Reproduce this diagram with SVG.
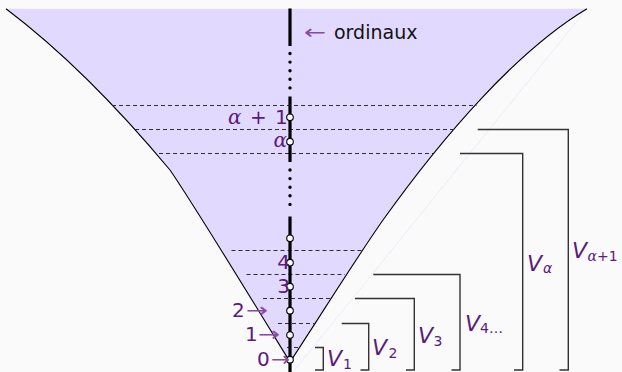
<svg xmlns="http://www.w3.org/2000/svg" width="622" height="372" viewBox="0 0 622 372">
<style>
  .curve{fill:none;stroke:#000;stroke-width:1.1}
  .dash{stroke:#2e2e2e;stroke-width:1.1;stroke-dasharray:4 3;fill:none}
  .axis{stroke:#000;stroke-width:3.2;fill:none}
  .dotline{stroke:#000;stroke-width:3.4;stroke-linecap:round;stroke-dasharray:0 8.6;fill:none}
  .pt{fill:#fff;stroke:#000;stroke-width:1.1}
  .br{fill:none;stroke:#333;stroke-width:1.4}
  .lab{font-family:"DejaVu Sans",sans-serif;font-size:20px;fill:#5a1a7e}
  .gk{font-family:"DejaVu Serif",serif;font-style:italic}
  .arr{font-family:"DejaVu Sans",sans-serif;font-size:20px;fill:#8a4aa0}
  .vl{font-family:"DejaVu Sans",sans-serif;font-size:22px;font-style:oblique;fill:#5a1a7e}
  .sub{font-family:"DejaVu Sans",sans-serif;font-size:14px;fill:#5a1a7e}
  .txt{font-family:"DejaVu Sans",sans-serif;font-size:19px;fill:#111}
</style>
<rect width="622" height="372" fill="#fafafa"/>
<g id="region">
  <path d="M6,8.7 L587,8.7 C517,50.5 443,136 383,220 C353,263 321,315 290,362 C252,300 196,208 170,170 C120,110 66,54 6,8.7 Z" fill="#e1dafe"/>
  <line x1="293" y1="372" x2="587" y2="8.7" stroke="#eae7f7" stroke-width="0.8"/>
  <path class="curve" d="M587,8.7 C517,50.5 443,136 383,220 C353,263 321,315 290,362"/>
  <path class="curve" d="M6,8.7 C66,54 120,110 170,170 C196,208 252,300 290,362"/>
</g>
<g id="levels">
  <line class="dash" x1="112" y1="105.5" x2="476.5" y2="105.5"/>
  <line class="dash" x1="135" y1="129.5" x2="455" y2="129.5"/>
  <line class="dash" x1="159" y1="153.5" x2="433" y2="153.5"/>
  <line class="dash" x1="231.5" y1="250.5" x2="362" y2="250.5"/>
  <line class="dash" x1="246.5" y1="274.5" x2="345" y2="274.5"/>
  <line class="dash" x1="263" y1="298.5" x2="330" y2="298.5"/>
  <line class="dash" x1="278" y1="323.5" x2="315" y2="323.5"/>
  <line class="dash" x1="287" y1="347.5" x2="301" y2="347.5"/>
</g>
<g id="axis">
  <line class="axis" x1="290" y1="8.5" x2="290" y2="46"/>
  <line class="dotline" x1="290" y1="53.5" x2="290" y2="90"/>
  <line class="axis" x1="290" y1="96.5" x2="290" y2="162"/>
  <line class="dotline" x1="290" y1="170" x2="290" y2="211"/>
  <line class="axis" x1="290" y1="216.5" x2="290" y2="372"/>
  <circle class="pt" cx="290" cy="117.3" r="3.3"/>
  <circle class="pt" cx="290" cy="141.7" r="3.3"/>
  <circle class="pt" cx="290" cy="238.3" r="3.3"/>
  <circle class="pt" cx="290" cy="262.7" r="3.3"/>
  <circle class="pt" cx="290" cy="286.7" r="3.3"/>
  <circle class="pt" cx="290" cy="310.7" r="3.3"/>
  <circle class="pt" cx="290" cy="335" r="3.3"/>
  <circle class="pt" cx="290" cy="359.7" r="3.3"/>
</g>
<g id="ordinaux-label">
  <text class="arr" x="304" y="38.5" textLength="22" lengthAdjust="spacingAndGlyphs">←</text>
  <text class="txt" x="334" y="39.3">ordinaux</text>
</g>
<g id="point-labels">
  <text class="lab" y="124"><tspan class="gk" x="228">α</tspan><tspan x="250">+</tspan><tspan x="275">1</tspan></text>
  <text class="lab gk" x="287" y="147" text-anchor="end">α</text>
  <text class="lab" x="290" y="268.5" text-anchor="end">4</text>
  <text class="lab" x="290" y="292.7" text-anchor="end">3</text>
  <text class="lab" x="232" y="316.7">2</text>
  <text class="arr" x="246" y="316.7" textLength="22" lengthAdjust="spacingAndGlyphs">→</text>
  <text class="lab" x="245" y="340.7">1</text>
  <text class="arr" x="258" y="340.7" textLength="22" lengthAdjust="spacingAndGlyphs">→</text>
  <text class="lab" x="257" y="365.7">0</text>
  <text class="arr" x="271" y="365.7" textLength="19" lengthAdjust="spacingAndGlyphs">→</text>
</g>
<g id="connectors">
  <path class="br" d="M315,347.5 H323.3 V370 H315"/>
  <path class="br" d="M341.7,323.5 H368.7 V370 H360.5"/>
  <path class="br" d="M355,298.5 H414.3 V370 H406"/>
  <path class="br" d="M373.3,274.5 H460 V370 H451.5"/>
  <path class="br" d="M460,153.5 H522.7 V370 H514"/>
  <path class="br" d="M477.7,129.5 H568.3 V370 H559.5"/>
</g>
<g id="V1"><text class="vl" x="327" y="366">V</text><text class="sub" x="343" y="368.5">1</text></g>
<g id="V2"><text class="vl" x="372" y="355">V</text><text class="sub" x="388.5" y="357.5">2</text></g>
<g id="V3"><text class="vl" x="418" y="343.3">V</text><text class="sub" x="433.5" y="346">3</text></g>
<g id="V4"><text class="vl" x="465" y="330.7">V</text><text class="sub" x="480" y="333">4…</text></g>
<g id="Valpha"><text class="vl" x="527" y="270.7">V</text><text class="sub gk" x="543" y="273">α</text></g>
<g id="Valpha1"><text class="vl" x="572" y="258.3">V</text><text class="sub" x="587.5" y="260.5"><tspan class="gk">α</tspan>+1</text></g>
</svg>
